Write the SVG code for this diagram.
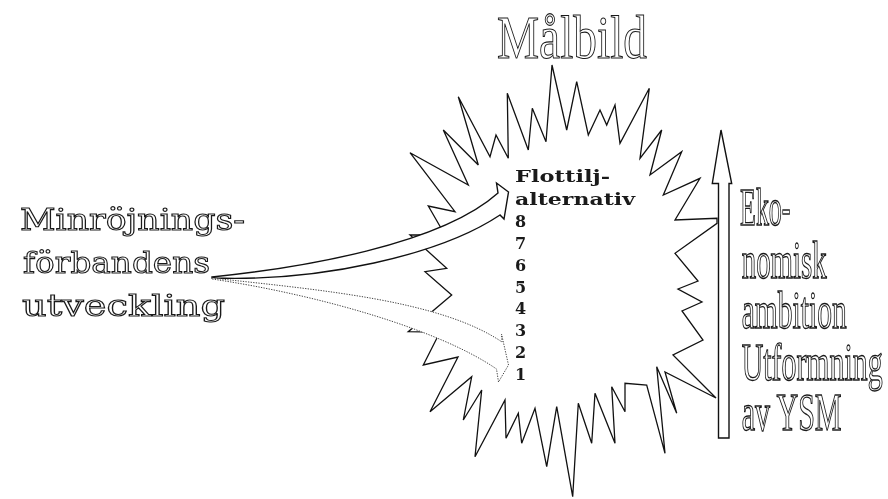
<svg xmlns="http://www.w3.org/2000/svg" width="888" height="499" viewBox="0 0 888 499">
<defs>
<filter id="gray" filterUnits="userSpaceOnUse" x="0" y="0" width="888" height="499" color-interpolation-filters="sRGB">
<feColorMatrix type="saturate" values="0"/>
</filter>
</defs>
<style>
.txt{filter:url(#gray)}
.outline{fill:#fff;stroke:#1a1a1a;stroke-width:1.1;font-family:"Liberation Serif",serif;vector-effect:non-scaling-stroke}
.cond{font-size:52px}
.wide{fill:#fff;stroke:#1a1a1a;stroke-width:1.1;font-family:"DejaVu Serif",serif}
.bold{fill:#1a1a1a;font-family:"DejaVu Serif",serif;font-weight:bold;font-size:16px}
.star{fill:#fff;stroke:#111;stroke-width:1.3;stroke-linejoin:miter}
.arr{fill:#fff;stroke:#111;stroke-width:1.4}
.dot{fill:#fff;stroke:#444;stroke-width:1;stroke-dasharray:1.3 1.3}
</style>
<rect width="888" height="499" fill="#fff"/>
<g id="star">
<polygon class="star" points="552,65 566.7,130 576.7,81.7 588.3,135 600,110 606.7,125 615,105 620,143.3 649.3,88.3 640,158.3 661.7,130 650,175 681.7,151.7 663.3,195 700,178.3 675,220 717,218.3 717,223.3 675,253.3 698,281 678,289 702,302 682,311 703,340 673,355 716,398 665,372 676.7,413.3 656.7,366.7 665,453.3 646.7,385 625,383.3 625,411.7 611.7,386.7 615,443.3 595,393.3 591.7,443.3 578.3,403.3 572.7,496.7 556.7,406.7 546.7,466.7 535,408.3 521.7,443.3 518.3,413.3 506,438.3 505,400 475,456.7 481.7,390 463.3,420 471.7,376.7 430,411.7 458,357 423.3,365 440,332 408.3,331.7 451.7,295 425,271.7 446.7,268.3 410,235 445,235 428.3,206 455,211.7 410,152.7 468.3,185 443.3,130 478.3,165 458.3,96.7 490,156.7 496,135 508.3,158.3 507.3,93.3 528.3,150 532.3,108.3 546,141.7"/>
</g>
<g id="connectors">
<path id="arrow-upper" class="arr" d="M212,277 C300,268 440,245 498,193 L496.5,183 L508.5,192 L504,219 L500,215 C440,255 320,282 212,278 Z"/>
<path id="arrow-lower" class="dot" d="M212,278 C320,290 440,300 502,342 L501.5,334 L508.5,365 L498.5,382 L496.5,369 C440,330 320,295 212,279 Z"/>
<polygon id="arrow-right" class="arr" points="721,130 731.7,183.5 729,183.5 729,438 718.5,438 718.5,183.5 712.3,183.5"/>
</g>
<g id="title" class="txt">
<text class="outline" x="497" y="58" font-size="62" textLength="150" lengthAdjust="spacingAndGlyphs">Målbild</text>
</g>
<g id="left-label" class="txt">
<text class="wide" x="20" y="230" font-size="30" textLength="225" lengthAdjust="spacingAndGlyphs">Minröjnings-</text>
<text class="wide" x="23" y="273" font-size="30" textLength="187" lengthAdjust="spacingAndGlyphs">förbandens</text>
<text class="wide" x="22" y="316" font-size="30" textLength="203" lengthAdjust="spacingAndGlyphs">utveckling</text>
</g>
<g id="center-list" class="txt">
<text class="bold" x="515" y="182" textLength="95" lengthAdjust="spacingAndGlyphs">Flottilj-</text>
<text class="bold" x="515" y="205" textLength="120" lengthAdjust="spacingAndGlyphs">alternativ</text>
<text class="bold" x="515" y="227">8</text>
<text class="bold" x="515" y="249">7</text>
<text class="bold" x="515" y="271">6</text>
<text class="bold" x="515" y="292.5">5</text>
<text class="bold" x="515" y="314">4</text>
<text class="bold" x="515" y="336">3</text>
<text class="bold" x="515" y="358">2</text>
<text class="bold" x="515" y="380">1</text>
</g>
<g id="right-label" class="txt">
<text class="outline cond" transform="translate(740,225) scale(0.5,1)">Eko-</text>
<text class="outline cond" transform="translate(741.7,278) scale(0.555,1)">nomisk</text>
<text class="outline cond" transform="translate(741.7,328) scale(0.568,1)">ambition</text>
<text class="outline cond" transform="translate(741.7,380) scale(0.574,1)">Utformning</text>
<text class="outline cond" transform="translate(741.7,430) scale(0.578,1)">av YSM</text>
</g>
</svg>
